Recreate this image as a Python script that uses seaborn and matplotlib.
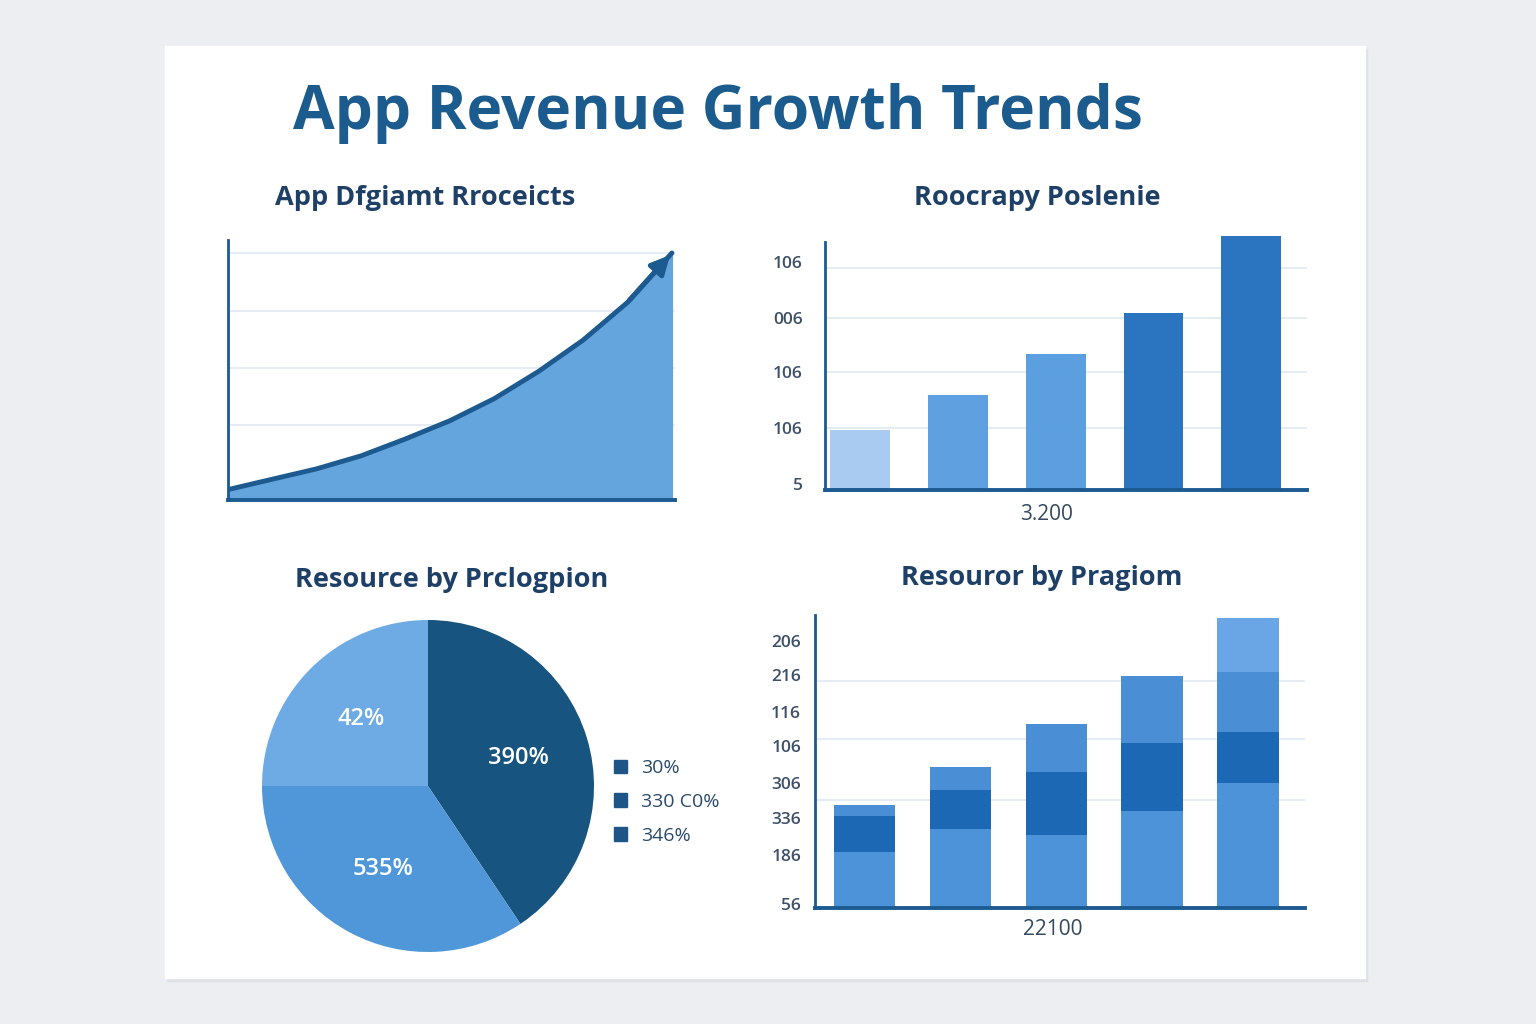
import matplotlib.pyplot as plt
from matplotlib.patches import Patch, Rectangle
import seaborn as sns
import numpy as np
import pandas as pd

# Panel de tendencias de ingresos (recreado)

trend_x = [0, 1, 2, 3, 4, 5, 6, 7, 8, 9, 10]
trend_y = [4, 8, 12, 17, 23.5, 30.5, 39, 49.5, 61.5, 76, 95]

bar_cats = ["A", "B", "C", "D", "E"]
bar_vals = [60, 95, 136, 177, 254]
bar_colors = ["#a9cbf2", "#5fa0e0", "#5c9fe0", "#2a74c0", "#2a74c0"]
bar_ticks = [6, 62, 118, 172, 228]
bar_ticklabels = ["5", "106", "106", "006", "106"]

pie_vals = [40.6, 34.4, 25.0]
pie_labels = ["390%", "535%", "42%"]
pie_colors = ["#17547f", "#5097da", "#6eaae4"]
legend_labels = ["30%", "330 C0%", "346%"]

stack_cats = ["A", "B", "C", "D", "E"]
stack_base = [56, 79, 73, 97, 125]
stack_dark = [36, 39, 63, 68, 51]
stack_mid = [11, 23, 48, 67, 60]
stack_top = [0, 0, 0, 0, 54]
stack_ticks = [4, 53, 90, 125, 162, 196, 233, 267]
stack_ticklabels = ["56", "186", "336", "306", "106", "116", "216", "206"]

sns.set_theme(style="white")
plt.rcParams['font.family'] = ['Open Sans', 'DejaVu Sans']

DARK = "#1c5a90"
NAVY = "#1e3f66"
TICK = "#3e5068"
GRID = "#e6ecf3"

W, H = 1536, 1024


def box(l, t, r, b):
    return [l / W, 1 - b / H, (r - l) / W, (b - t) / H]


def style_axes(ax, pad=11):
    for s in ["top", "right"]:
        ax.spines[s].set_visible(False)
    ax.spines["left"].set_color(DARK)
    ax.spines["left"].set_linewidth(2)
    ax.spines["bottom"].set_color(DARK)
    ax.spines["bottom"].set_linewidth(2.8)
    ax.set_facecolor("none")
    ax.tick_params(axis="both", length=0, colors=TICK, labelsize=12.5, pad=pad)


fig = plt.figure(figsize=(W / 100, H / 100), dpi=100)
fig.patch.set_facecolor("#eceef2")
fig.patches.append(Rectangle((167 / W, 1 - 981 / H), 1200 / W, 932 / H,
                             transform=fig.transFigure, color="#dde1e7", zorder=-2))
fig.patches.append(Rectangle((165 / W, 1 - 978 / H), 1200 / W, 932 / H,
                             transform=fig.transFigure, color="white", zorder=-1))

fig.text(718 / W, 1 - 113 / H, "App Revenue Growth Trends", ha="center", va="center",
         fontsize=43.5, fontweight="bold", color="#1b5b8d")

# 1. area con flecha
ax1 = fig.add_axes(box(228, 240, 675, 500))
style_axes(ax1)
for g in [28.8, 50.8, 72.7, 95]:
    ax1.axhline(g, color=GRID, lw=1.5, zorder=0)
ax1.fill_between(trend_x, trend_y, color="#65a5de", zorder=1)
sns.lineplot(x=trend_x, y=trend_y, ax=ax1, color=DARK, lw=3.5, zorder=2)
ax1.annotate("", xy=(trend_x[-1], trend_y[-1]), xytext=(trend_x[-2], trend_y[-2]),
             arrowprops=dict(arrowstyle="-|>", color=DARK, lw=3.5, mutation_scale=28), zorder=3)
ax1.set_xlim(0, 10.07)
ax1.set_ylim(0, 100)
ax1.set_xticks([])
ax1.set_yticks([])
fig.text(425 / W, 1 - 198 / H, "App Dfgiamt Rroceicts", ha="center", va="center",
         fontsize=19.5, fontweight="bold", color=NAVY)

# 2. barras
ax2 = fig.add_axes(box(825, 236, 1307, 490))
style_axes(ax2, pad=16)
for g in [62, 118, 172, 222]:
    ax2.axhline(g, color=GRID, lw=1.5, zorder=0)
sns.barplot(x=bar_cats, y=bar_vals, hue=bar_cats, palette=bar_colors, legend=False,
            width=0.61, saturation=1, linewidth=0, ax=ax2, zorder=2)
ax2.set_xlim(-0.36, 4.57)
ax2.set_ylim(0, 254)
ax2.spines["left"].set_bounds(0, 248)
ax2.set_yticks(bar_ticks)
ax2.set_yticklabels(bar_ticklabels, fontweight="semibold")
ax2.set_xticks([])
ax2.set_xlabel("3.200", fontsize=15, color="#34495e")
ax2.xaxis.set_label_coords(0.46, -0.098)
ax2.xaxis.label.set_va("center")
fig.text(1037 / W, 1 - 198 / H, "Roocrapy Poslenie", ha="center", va="center",
         fontsize=19.5, fontweight="bold", color=NAVY)

# 3. pastel
ax3 = fig.add_axes(box(262, 620, 594, 952))
wedges, texts = ax3.pie(pie_vals, colors=pie_colors, startangle=90, counterclock=False,
                        labels=pie_labels, labeldistance=0.57,
                        wedgeprops=dict(linewidth=0),
                        textprops=dict(color="white", fontsize=17, fontweight="semibold"))
for t in texts:
    t.set_ha("center")
    t.set_va("center")
ax3.set_xlim(-1, 1)
ax3.set_ylim(-1, 1)
handles = [Patch(color="#1d5686") for _ in legend_labels]
fig.legend(handles, legend_labels, loc="center left", bbox_to_anchor=(596 / W, 1 - 802 / H),
           frameon=False, fontsize=14, labelcolor="#2a4a6a", handlelength=0.7,
           handleheight=0.7, handletextpad=0.7, labelspacing=0.8)
fig.text(452 / W, 1 - 580 / H, "Resource by Prclogpion", ha="center", va="center",
         fontsize=19.5, fontweight="bold", color=NAVY)

# 4. barras apiladas
ax4 = fig.add_axes(box(815, 615, 1305, 908))
style_axes(ax4, pad=10)
for g in [108, 169, 227]:
    ax4.axhline(g, color=GRID, lw=1.5, zorder=0)
base = np.array(stack_base)
dark = base + np.array(stack_dark)
mid = dark + np.array(stack_mid)
top = mid + np.array(stack_top)
for vals, col in [(top, "#6aa6e6"), (mid, "#4a8ed6"), (dark, "#1d68b5"), (base, "#4d93d9")]:
    sns.barplot(x=stack_cats, y=vals, color=col, width=0.64, saturation=1, linewidth=0,
                ax=ax4, zorder=2)
ax4.set_xlim(-0.516, 4.594)
ax4.set_ylim(0, 293)
ax4.set_yticks(stack_ticks)
ax4.set_yticklabels(stack_ticklabels, fontweight="semibold")
ax4.set_xticks([])
ax4.set_xlabel("22100", fontsize=15, color="#34495e")
ax4.xaxis.set_label_coords(0.486, -0.075)
ax4.xaxis.label.set_va("center")
fig.text(1042 / W, 1 - 578 / H, "Resouror by Pragiom", ha="center", va="center",
         fontsize=19.5, fontweight="bold", color=NAVY)

fig.savefig("out.png", dpi=100)
